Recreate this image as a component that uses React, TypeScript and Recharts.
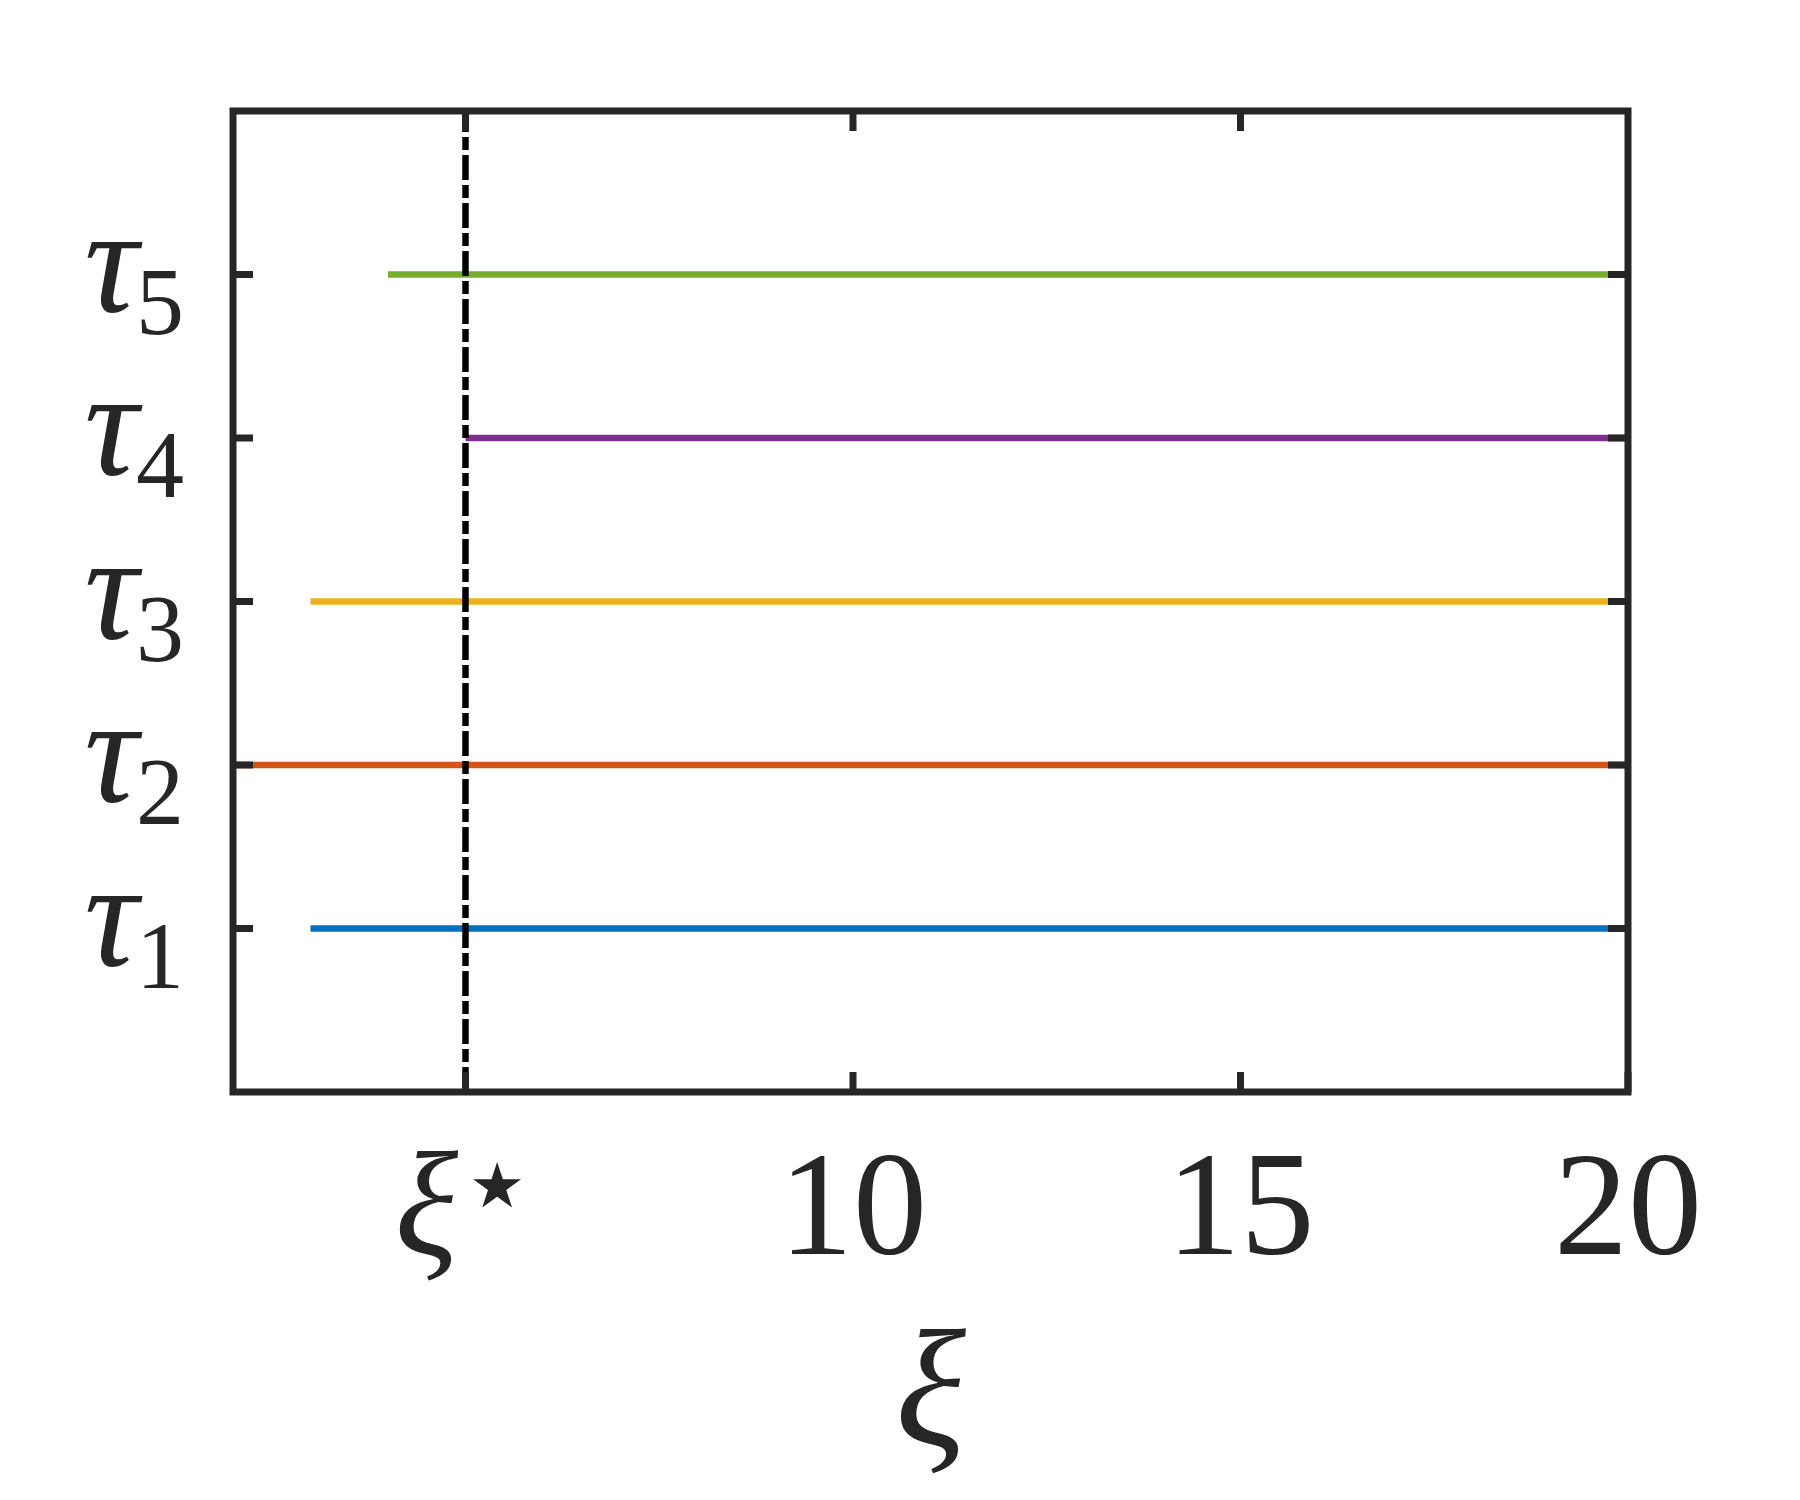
import React from 'react';
import { LineChart, Line, XAxis, YAxis, ReferenceLine, ReferenceArea } from 'recharts';

// levels of each tau line and where it starts on the xi axis
const seriesNames = ['τ1', 'τ2', 'τ3', 'τ4', 'τ5'];
const tauLevels = [1, 2, 3, 4, 5];
const xiStart = [3, 2, 3, 5, 4];
const xiEnd = [20, 20, 20, 20, 20];
const COLORS = ['#0072BD', '#D95319', '#EDB120', '#7E2F8E', '#77AC30'];

const xTicks = [5, 10, 15, 20];
const xTickLabels = ['ξ*', '10', '15', '20'];
const topTicks = [5, 10, 15];
const yTicks = [1, 2, 3, 4, 5];
const ySubscripts = ['1', '2', '3', '4', '5'];
const xiStar = 5;
const xDomain = [2, 20];
const yDomain = [0, 6];

const INK = '#262626';
const FONT = '"Liberation Serif", "DejaVu Serif", serif';
const TICK_LEN = 20;

const seriesData = seriesNames.map((name, i) => ({
  name,
  color: COLORS[i],
  points: [
    { xi: xiStart[i], tau: tauLevels[i] },
    { xi: xiEnd[i], tau: tauLevels[i] },
  ],
}));

const BottomTick = (props: any) => {
  const { x, y, payload } = props;
  const idx = xTicks.indexOf(payload.value);
  const label = xTickLabels[idx];
  return (
    <g>
      <line x1={x} y1={y} x2={x} y2={y - TICK_LEN} stroke={INK} strokeWidth={7} />
      {label === 'ξ*' ? (
        <text x={x} y={y + 162} textAnchor="middle" fill={INK} fontFamily={FONT} fontSize={148}>
          <tspan fontStyle="italic">ξ</tspan>
          <tspan fontFamily='"DejaVu Sans", sans-serif' fontSize={125} dy={-28}>⋆</tspan>
        </text>
      ) : (
        <text x={x} y={y + 162} textAnchor="middle" fill={INK} fontFamily={FONT} fontSize={148}>
          {label}
        </text>
      )}
    </g>
  );
};

const TopTick = (props: any) => {
  const { x, y } = props;
  return <line x1={x} y1={y} x2={x} y2={y + TICK_LEN} stroke={INK} strokeWidth={7} />;
};

const LeftTick = (props: any) => {
  const { x, y, payload } = props;
  const sub = ySubscripts[yTicks.indexOf(payload.value)];
  return (
    <g>
      <line x1={x} y1={y} x2={x + TICK_LEN} y2={y} stroke={INK} strokeWidth={7} />
      <text x={x - 49} y={y + 37} textAnchor="end" fill={INK} fontFamily={FONT} fontSize={150}>
        <tspan fontStyle="italic">τ</tspan>
        <tspan fontSize={96} dy={22} dx={-2}>{sub}</tspan>
      </text>
    </g>
  );
};

const RightTick = (props: any) => {
  const { x, y } = props;
  return <line x1={x} y1={y} x2={x - TICK_LEN} y2={y} stroke={INK} strokeWidth={7} />;
};

const XLabel = (props: any) => {
  const { viewBox } = props;
  const { x, y, width } = viewBox;
  return (
    <text x={x + width / 2} y={y + 352} textAnchor="middle" fill={INK} fontFamily={FONT} fontSize={165} fontStyle="italic">
      ξ
    </text>
  );
};

export default function App() {
  return (
    <div style={{ position: 'absolute', left: 0, top: 0, width: 1800, height: 1500, background: '#fff' }}>
      <LineChart width={1800} height={1500} margin={{ top: 110, right: 171, bottom: 0, left: 0 }}>
        <XAxis
          xAxisId="b"
          type="number"
          dataKey="xi"
          domain={xDomain}
          ticks={xTicks}
          allowDataOverflow
          height={408}
          tickSize={0}
          tickMargin={0}
          axisLine={false}
          tickLine={false}
          tick={<BottomTick />}
          interval={0}
          label={<XLabel />}
        />
        <XAxis
          xAxisId="t"
          orientation="top"
          type="number"
          dataKey="xi"
          domain={xDomain}
          ticks={topTicks}
          allowDataOverflow
          height={1}
          tickSize={0}
          tickMargin={0}
          axisLine={false}
          tickLine={false}
          tick={<TopTick />}
          interval={0}
        />
        <YAxis
          yAxisId="l"
          type="number"
          dataKey="tau"
          domain={yDomain}
          ticks={yTicks}
          allowDataOverflow
          width={233}
          tickSize={0}
          tickMargin={0}
          axisLine={false}
          tickLine={false}
          tick={<LeftTick />}
          interval={0}
        />
        <YAxis
          yAxisId="r"
          orientation="right"
          type="number"
          dataKey="tau"
          domain={yDomain}
          ticks={yTicks}
          allowDataOverflow
          width={1}
          tickSize={0}
          tickMargin={0}
          axisLine={false}
          tickLine={false}
          tick={<RightTick />}
          interval={0}
        />
        {seriesData.map((s) => (
          <Line
            key={s.name}
            xAxisId="b"
            yAxisId="l"
            data={s.points}
            dataKey="tau"
            name={s.name}
            stroke={s.color}
            strokeWidth={6.5}
            dot={false}
            activeDot={false}
            isAnimationActive={false}
          />
        ))}
        {/* invisible copy so the box axes (top / right) get a domain */}
        <Line
          xAxisId="t"
          yAxisId="r"
          data={seriesData[1].points}
          dataKey="tau"
          stroke="none"
          strokeOpacity={0}
          dot={false}
          activeDot={false}
          legendType="none"
          isAnimationActive={false}
        />
        <ReferenceLine
          xAxisId="b"
          yAxisId="l"
          x={xiStar}
          stroke="#000"
          strokeWidth={6.5}
          strokeDasharray="25 5 13 5"
          zIndex={600}
        />
        <ReferenceArea
          xAxisId="b"
          yAxisId="l"
          x1={xDomain[0]}
          x2={xDomain[1]}
          y1={yDomain[0]}
          y2={yDomain[1]}
          fill="none"
          fillOpacity={0}
          stroke={INK}
          strokeWidth={7}
          zIndex={650}
        />
      </LineChart>
    </div>
  );
}
